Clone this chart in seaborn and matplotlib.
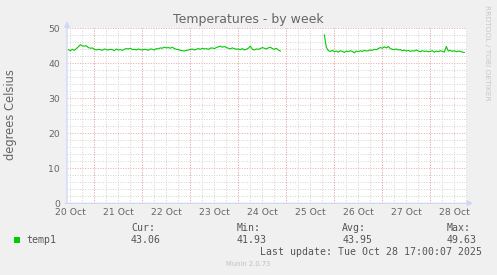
import matplotlib
matplotlib.use("Agg")
import matplotlib.pyplot as plt
import matplotlib.dates as mdates
from matplotlib.ticker import MultipleLocator
from matplotlib.patches import Rectangle
import seaborn as sns
import pandas as pd

# ---------------- data ----------------
title = "Temperatures - by week"
ylabel = "degrees Celsius"
series_name = "temp1"
stat_labels = ["Cur:", "Min:", "Avg:", "Max:"]
stat_values = ["43.06", "41.93", "43.95", "49.63"]
last_update = "Last update: Tue Oct 28 17:00:07 2025"
footer = "Munin 2.0.73"
watermark = "RRDTOOL / TOBI OETIKER"

view_start = "2025-10-20 10:20"
view_end = "2025-10-28 18:20"

# hourly readings, first segment (20 Oct 11:00 -> 24 Oct 21:00)
seg1_start = "2025-10-20 11:00"
seg1_values = (
    [43.9, 43.6, 44.0, 43.7, 44.2, 44.7, 45.3, 45.0, 44.9, 45.0, 44.5, 44.3, 44.4]
    + [44.0, 43.8, 44.0, 43.9, 43.7, 44.1, 43.9, 43.8, 44.0, 43.9, 43.6, 44.1,
       43.8, 43.9, 43.7, 44.0, 44.2, 44.1, 44.3, 43.9, 44.0, 43.8, 44.1, 43.9]
    + [43.8, 44.0, 43.9, 43.7, 44.1, 44.0, 43.8, 44.2, 44.1, 44.4, 44.3, 44.6,
       44.4, 44.5, 44.3, 44.6, 44.2, 44.0, 43.9, 43.7, 43.6, 43.5, 43.7, 43.8]
    + [43.9, 44.1, 43.8, 44.0, 44.2, 44.0, 44.3, 44.1, 44.2, 44.0, 44.3, 44.4,
       44.2, 44.5, 44.7, 44.9, 44.6, 44.8, 44.5, 44.3, 44.1, 44.4, 44.2, 44.0]
    + [44.1, 43.9, 44.2, 43.8, 44.0, 44.3, 44.9, 44.0, 43.8, 44.1, 44.0, 44.2,
       44.5, 44.3, 44.1, 44.4, 44.6, 44.2, 44.0, 44.3, 43.8, 43.5]
)
# hourly readings, second segment (25 Oct 19:00 -> 28 Oct 17:00)
seg2_start = "2025-10-25 19:00"
seg2_values = (
    [48.1, 44.6, 43.6, 43.4, 43.7]
    + [43.3, 43.5, 43.2, 43.6, 43.4, 43.1, 43.5, 43.3, 43.6, 43.4, 43.0, 43.5,
       43.3, 43.6, 43.4, 43.7, 43.5, 43.6, 43.8, 43.7, 44.0, 43.9, 44.2, 44.5]
    + [44.3, 44.7, 44.4, 44.8, 44.2, 44.0, 43.9, 44.1, 43.8, 43.9, 43.6, 43.8,
       43.5, 43.7, 43.4, 43.6, 43.5, 43.8, 43.5, 43.3, 43.6, 43.4, 43.5, 43.3]
    + [43.4, 43.6, 43.2, 43.5, 43.3, 43.6, 43.4, 43.2, 44.8, 43.5, 43.7, 43.4,
       43.6, 43.3, 43.5, 43.4, 43.2, 43.1]
)
y_min, y_max = 0, 50

# ---------------- style ----------------
BG = "#F0F0F0"
FONT = "#666666"
AXIS = "#CFD6F8"
GRID = "#D2D2D2"
MGRID = "#EBA5A5"
LINE = "#00CC00"
W, H = 497, 275

df1 = pd.DataFrame({"time": pd.date_range(seg1_start, periods=len(seg1_values), freq="h"),
                    "temp": seg1_values})
df2 = pd.DataFrame({"time": pd.date_range(seg2_start, periods=len(seg2_values), freq="h"),
                    "temp": seg2_values})

fig = plt.figure(figsize=(W / 100, H / 100), dpi=100, facecolor=BG)
ax = fig.add_axes([67 / W, (H - 203.3) / H, 400 / W, 175 / H])
ax.set_facecolor("white")

sns.lineplot(data=df1, x="time", y="temp", ax=ax, color=LINE, linewidth=0.8, zorder=5)
sns.lineplot(data=df2, x="time", y="temp", ax=ax, color=LINE, linewidth=0.8, zorder=5)

ax.set_xlim(pd.Timestamp(view_start), pd.Timestamp(view_end))
ax.set_ylim(y_min, y_max)

dash = (0, (1.0, 1.6))
ax.xaxis.set_major_locator(mdates.HourLocator(byhour=[12]))
ax.xaxis.set_minor_locator(mdates.HourLocator(byhour=[0, 6, 18]))
ax.xaxis.set_major_formatter(mdates.DateFormatter("%d %b"))
ax.yaxis.set_major_locator(MultipleLocator(10))
ax.yaxis.set_minor_locator(MultipleLocator(2))

ax.set_axisbelow(True)
ax.grid(True, axis="x", which="both", color=GRID, linewidth=0.7, linestyle=dash)
ax.grid(True, axis="y", which="minor", color=GRID, linewidth=0.7, linestyle=dash)
ax.grid(True, axis="y", which="major", color=MGRID, linewidth=0.7, linestyle=dash)
for d in pd.date_range(pd.Timestamp(view_start).ceil("D"), pd.Timestamp(view_end), freq="D"):
    ax.axvline(d, color=MGRID, linewidth=0.7, linestyle=dash, zorder=1)

ax.tick_params(axis="both", which="both", length=0, colors=FONT, labelsize=6.7)
ax.tick_params(axis="x", pad=3.3)
ax.tick_params(axis="y", pad=5.0)
ax.set_xlabel("")
ax.set_ylabel("")
for s in ax.spines.values():
    s.set_visible(False)

# axes with arrows
ax.annotate("", xy=(0, 1.04), xytext=(0, 0), xycoords="axes fraction",
            arrowprops=dict(arrowstyle="-|>", color=AXIS, lw=0.9, shrinkA=0, shrinkB=0,
                            mutation_scale=8), annotation_clip=False, zorder=6)
ax.annotate("", xy=(1.015, 0), xytext=(-0.005, 0), xycoords="axes fraction",
            arrowprops=dict(arrowstyle="-|>", color=AXIS, lw=0.9, shrinkA=0, shrinkB=0,
                            mutation_scale=8), annotation_clip=False, zorder=6)

def fx(x):
    return x / W

def fy(y):
    return 1 - y / H

fig.text(fx(248.5), fy(19.5), title, ha="center", va="center", fontsize=9, color=FONT)
fig.text(fx(11), fy(115), ylabel, ha="center", va="center", rotation=90, fontsize=8.3, color=FONT)
fig.text(fx(487.5), fy(5), watermark, ha="center", va="top", rotation=270, fontsize=5.4, color="#C8C8C8")

mono = "DejaVu Sans Mono"
fig.patches.append(Rectangle((fx(14), fy(243)), 6 / W, 6 / H, transform=fig.transFigure,
                             facecolor=LINE, edgecolor="none"))
fig.text(fx(26.5), fy(240), series_name, ha="left", va="center", family=mono, fontsize=7.1, color="#555555")
stat_x = [131, 237, 342.3, 447]
for x, lab, val in zip(stat_x, stat_labels, stat_values):
    fig.text(fx(x), fy(227.7), lab, ha="left", va="center", family=mono, fontsize=7.1, color="#555555")
    fig.text(fx(x), fy(240), val, ha="left", va="center", family=mono, fontsize=7.1, color="#555555")
fig.text(fx(482.5), fy(251.7), last_update, ha="right", va="center", family=mono, fontsize=7.1, color="#555555")
fig.text(fx(247.7), fy(264), footer, ha="center", va="center", fontsize=4.9, color="#C0C0C0")

fig.savefig("out.png", dpi=100, facecolor=BG)
